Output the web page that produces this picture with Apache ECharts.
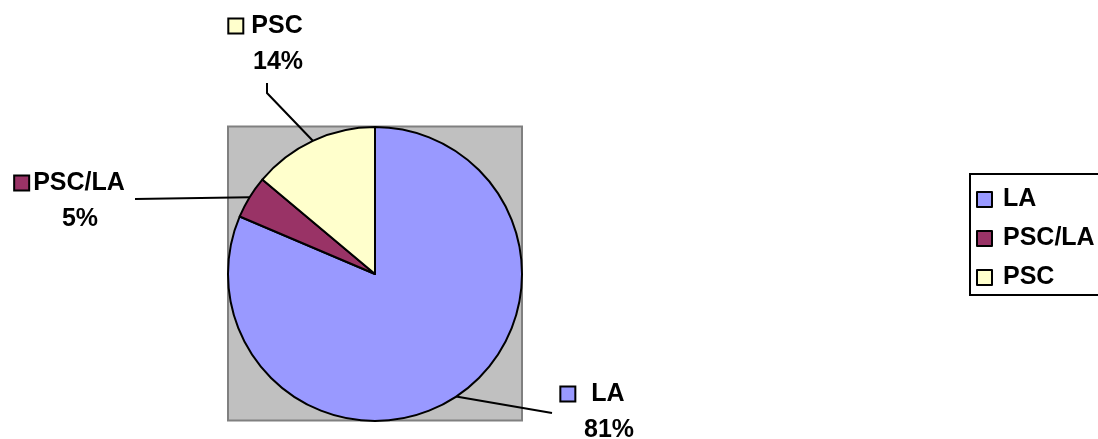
<!DOCTYPE html>
<html>
<head>
<meta charset="utf-8">
<script src="https://cdn.jsdelivr.net/npm/echarts@6/dist/echarts.min.js"></script>
<style>
  html, body { margin: 0; padding: 0; background: #fff; }
  #chart { width: 1098px; height: 439px; }
</style>
</head>
<body>
<div id="chart"></div>
<script>
const categories = ["LA", "PSC/LA", "PSC"];
const values = [81.4, 4.7, 13.9];
const colors = ["#9999FF", "#993366", "#FFFFCC"];

// where each label block sits, the gap after its key, and where its leader line ends
const labelPos = [
  { x: 593, y: 412, gap: 17, end: [[552, 413], [552, 413]] },
  { x: 70, y: 201, gap: 5, end: [[135, 199], [135, 199]] },
  { x: 266, y: 44, gap: 9, end: [[267, 93], [267, 83]] },
];

const cx = 375, cy = 274, r = 147;
const font = "'Liberation Sans', Arial, sans-serif";
const fs = 25;
const keySize = 13;

const rich = {
  t: { fontFamily: font, fontWeight: "bold", fontSize: fs, color: "#000", lineHeight: 36 },
};
colors.forEach((c, i) => {
  rich["m" + i] = {
    width: keySize, height: keySize, backgroundColor: c,
    borderColor: "#000", borderWidth: 2,
  };
});
labelPos.forEach((p, i) => {
  rich["g" + i] = { width: p.gap };
  rich["s" + i] = { width: keySize + 2 + p.gap };
});

const chart = echarts.init(document.getElementById("chart"));
chart.setOption({
  backgroundColor: "#fff",
  animation: false,
  graphic: [
    {
      type: "rect",
      shape: { x: cx - r, y: cy - r - 0.5, width: 2 * r, height: 2 * r },
      style: { fill: "#C0C0C0", stroke: "#808080", lineWidth: 2 },
      z: -1,
    },
  ],
  legend: {
    orient: "vertical",
    left: 970,
    top: 174,
    padding: [13, 30, 5, 6],
    itemGap: 14,
    itemWidth: 15,
    itemHeight: 15,
    borderColor: "#000",
    borderWidth: 2,
    icon: "rect",
    itemStyle: { borderColor: "#000", borderWidth: 2 },
    textStyle: { fontFamily: font, fontWeight: "bold", fontSize: fs, color: "#000", padding: [0, 0, 0, 6] },
    data: categories,
  },
  series: [
    {
      type: "pie",
      center: [cx, cy],
      radius: r,
      startAngle: 90,
      clockwise: true,
      data: categories.map((name, i) => ({
        name, value: values[i],
        itemStyle: { color: colors[i] },
      })),
      itemStyle: { borderColor: "#000", borderWidth: 2 },
      emphasis: { disabled: true },
      label: {
        show: true,
        rich,
        align: "center",
        formatter: (p) => {
          const i = p.dataIndex;
          return `{m${i}|}{g${i}|}{t|${p.name}}\n{s${i}|}{t|${Math.round(p.percent)}%}`;
        },
      },
      labelLine: { show: true, lineStyle: { color: "#000", width: 2 } },
      labelLayout: (params) => {
        const pos = labelPos[params.dataIndex];
        const pts = params.labelLinePoints;
        return {
          x: pos.x,
          y: pos.y,
          align: "center",
          verticalAlign: "middle",
          labelLinePoints: [pts[0], pos.end[0], pos.end[1]],
        };
      },
    },
  ],
});
</script>
</body>
</html>
